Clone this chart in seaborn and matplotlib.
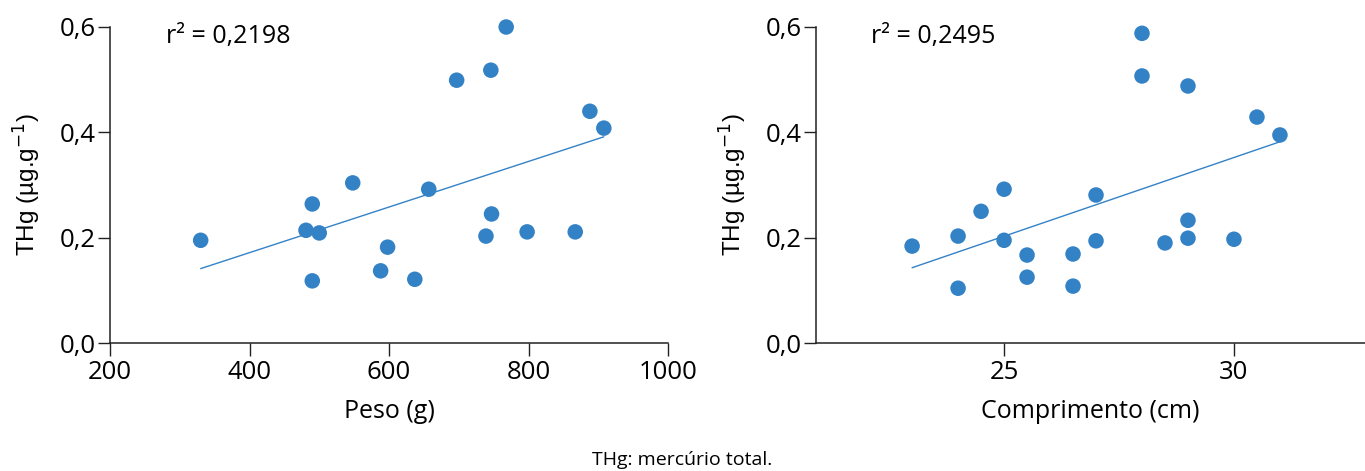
import numpy as np
import seaborn as sns
import matplotlib.pyplot as plt

# Peso (g) vs THg
peso = [330, 490, 481, 500, 490, 548, 588, 598, 637, 657, 697, 746, 768, 739, 747, 798, 867, 888, 908]
thg_peso = [0.195, 0.264, 0.214, 0.209, 0.118, 0.304, 0.137, 0.182, 0.121, 0.292,
            0.499, 0.518, 0.600, 0.203, 0.245, 0.211, 0.211, 0.440, 0.408]

# Comprimento (cm) vs THg
comprimento = [23, 24, 24, 24.5, 25, 25, 25.5, 25.5, 26.5, 26.5, 27, 27,
               28, 28, 28.5, 29, 29, 29, 30, 30.5, 31]
thg_comp = [0.184, 0.203, 0.104, 0.250, 0.292, 0.195, 0.167, 0.125, 0.169, 0.108,
            0.281, 0.194, 0.588, 0.507, 0.190, 0.488, 0.233, 0.199, 0.197, 0.429, 0.395]

r2_labels = ["r\u00b2 = 0,2198", "r\u00b2 = 0,2495"]
y_ticks = [0.0, 0.2, 0.4, 0.6]
y_ticklabels = ["0,0", "0,2", "0,4", "0,6"]

sns.set_style("ticks")
plt.rcParams['font.family'] = ['Open Sans', 'DejaVu Sans']
plt.rcParams['text.color'] = 'black'
plt.rcParams['axes.labelcolor'] = 'black'
plt.rcParams['xtick.color'] = 'black'
plt.rcParams['ytick.color'] = 'black'
plt.rcParams['mathtext.fontset'] = 'custom'
plt.rcParams['mathtext.rm'] = 'Liberation Sans'
plt.rcParams['mathtext.it'] = 'Liberation Sans'

blue = "#3382c6"
fig = plt.figure(figsize=(13.65, 4.71), dpi=100)
ax1 = fig.add_axes([110 / 1365, 1 - 343 / 471, 558 / 1365, 316 / 471])
ax2 = fig.add_axes([816 / 1365, 1 - 343 / 471, 549 / 1365, 316 / 471])

panels = [
    (ax1, peso, thg_peso, (200, 1000), [200, 400, 600, 800, 1000], "Peso (g)"),
    (ax2, comprimento, thg_comp, (20.91, 32.85), [25, 30], "Comprimento (cm)"),
]

for i, (ax, x, y, xlim, xt, xlabel) in enumerate(panels):
    sns.regplot(x=np.array(x), y=np.array(y), ax=ax, ci=None, truncate=True,
                scatter_kws=dict(s=125, color=blue, edgecolor="none", alpha=1),
                line_kws=dict(color=blue, lw=1))
    for c in ax.collections:
        c.set_clip_on(False)
    ax.set_xlim(*xlim)
    ax.set_ylim(0, 0.6)
    ax.set_xticks(xt)
    ax.set_xticklabels([str(v) for v in xt])
    ax.set_yticks(y_ticks)
    ax.set_yticklabels(y_ticklabels)
    ax.tick_params(axis="both", labelsize=18.5, length=9, width=1, color="#222222")
    ax.tick_params(axis="x", pad=3)
    ax.tick_params(axis="y", pad=1)
    for s in ["left", "bottom"]:
        ax.spines[s].set_color("#222222")
        ax.spines[s].set_linewidth(1.1)
    sns.despine(ax=ax)
    ax.set_xlabel(xlabel, fontsize=18, labelpad=10)
    ax.set_ylabel(r"THg (µg.g$^{\mathsf{-1}}$)", fontsize=17.5, family="Liberation Sans", labelpad=13)
    ax.text(0.1, 0.97, r2_labels[i], transform=ax.transAxes, fontsize=18,
            ha="left", va="center")

fig.text(0.5, 1 - 460 / 471, "THg: mercúrio total.", ha="center", va="center", fontsize=14)

fig.savefig("out.png", dpi=100)
